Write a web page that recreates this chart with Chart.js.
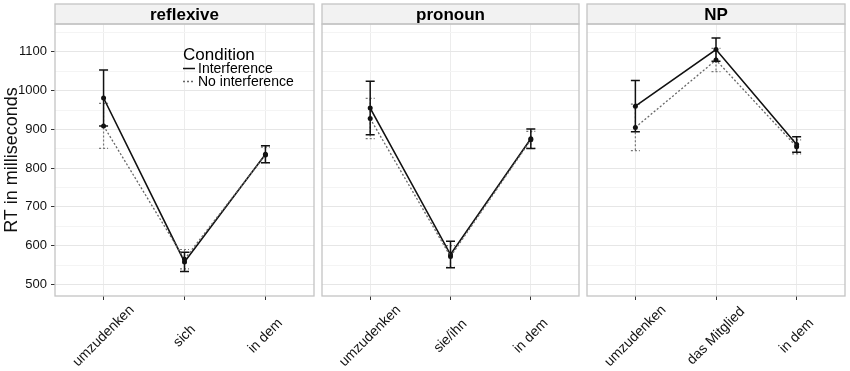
<!DOCTYPE html>
<html lang="en">
<head>
    <meta charset="UTF-8">
    <title>RT by condition</title>
    <script src="https://cdn.jsdelivr.net/npm/chart.js"></script>
    <style>
        body { margin: 0; background: #fff; }
        #wrap { position: relative; width: 850px; height: 371px; }
        #wrap canvas { position: absolute; top: 0; }
    </style>
</head>
<body>
    <div id="wrap">
        <canvas id="c1" width="318" height="371" style="left:0px"></canvas>
        <canvas id="c2" width="265" height="371" style="left:318px"></canvas>
        <canvas id="c3" width="267" height="371" style="left:583px"></canvas>
    </div>
    <script>
        // facet names and the words on the x axis of each facet
        const panels = ['reflexive', 'pronoun', 'NP'];
        const reflexiveLabels = ['umzudenken', 'sich', 'in dem'];
        const pronounLabels = ['umzudenken', 'sie/ihn', 'in dem'];
        const npLabels = ['umzudenken', 'das Mitglied', 'in dem'];

        // mean RT (ms) and standard error, Interference condition
        const reflexiveInt = [981, 558, 836];
        const reflexiveIntSe = [72, 25, 22];
        const pronounInt = [955, 577, 876];
        const pronounIntSe = [69, 34, 25];
        const npInt = [960, 1106, 861];
        const npIntSe = [66, 30, 20];

        // No interference condition
        const reflexiveNoInt = [909, 565, 834];
        const reflexiveNoIntSe = [58, 25, 20];
        const pronounNoInt = [928, 572, 873];
        const pronounNoIntSe = [52, 28, 22];
        const npNoInt = [905, 1079, 855];
        const npNoIntSe = [60, 30, 18];

        const yTicks = [500, 600, 700, 800, 900, 1000, 1100];

        const FONT = '"Liberation Sans", Arial, Helvetica, sans-serif';

        // error bars drawn under the lines
        const errorBars = {
            id: 'errorBars',
            beforeDatasetsDraw(chart) {
                const ctx = chart.ctx;
                const xs = chart.scales.x, ys = chart.scales.y;
                chart.data.datasets.forEach(ds => {
                    ctx.save();
                    ctx.strokeStyle = ds.barColor;
                    ctx.lineWidth = ds.barWidth;
                    ctx.setLineDash(ds.borderDash || []);
                    ds.data.forEach((p, i) => {
                        const x = xs.getPixelForValue(p.x);
                        const top = ys.getPixelForValue(p.y + ds.se[i]);
                        const bot = ys.getPixelForValue(p.y - ds.se[i]);
                        ctx.beginPath();
                        ctx.moveTo(x, top); ctx.lineTo(x, bot);
                        ctx.moveTo(x - 4.5, top); ctx.lineTo(x + 4.5, top);
                        ctx.moveTo(x - 4.5, bot); ctx.lineTo(x + 4.5, bot);
                        ctx.stroke();
                    });
                    ctx.restore();
                });
            }
        };

        // strip on top, panel border and the rotated category labels
        const facet = {
            id: 'facet',
            afterDraw(chart, args, opts) {
                const ctx = chart.ctx;
                const a = chart.chartArea;
                ctx.save();
                ctx.fillStyle = '#f2f2f2';
                ctx.fillRect(a.left, 4, a.right - a.left, a.top - 4);
                ctx.strokeStyle = '#c4c4c4';
                ctx.lineWidth = 1.3;
                ctx.strokeRect(a.left, 4, a.right - a.left, a.top - 4);
                ctx.strokeRect(a.left, a.top, a.right - a.left, a.bottom - a.top);
                ctx.fillStyle = '#000';
                ctx.font = 'bold 17px ' + FONT;
                ctx.textAlign = 'center';
                ctx.textBaseline = 'middle';
                ctx.fillText(opts.title, (a.left + a.right) / 2, 15);

                ctx.font = '14px ' + FONT;
                ctx.fillStyle = '#111';
                opts.labels.forEach((lab, i) => {
                    const x = chart.scales.x.getPixelForValue(i);
                    ctx.save();
                    ctx.translate(x, 336);
                    ctx.rotate(-Math.PI / 4);
                    ctx.fillText(lab, 0, 0);
                    ctx.restore();
                });
                ctx.restore();
            }
        };

        const legendBox = {
            id: 'legendBox',
            afterDraw(chart) {
                const ctx = chart.ctx;
                ctx.save();
                ctx.fillStyle = '#000';
                ctx.font = '17px ' + FONT;
                ctx.textBaseline = 'alphabetic';
                ctx.fillText('Condition', 183, 60);
                ctx.font = '14px ' + FONT;
                ctx.fillText('Interference', 198, 73);
                ctx.fillText('No interference', 198, 86);
                ctx.strokeStyle = '#111';
                ctx.lineWidth = 1.5;
                ctx.beginPath(); ctx.moveTo(183, 68.5); ctx.lineTo(195, 68.5); ctx.stroke();
                ctx.strokeStyle = '#666';
                ctx.setLineDash([2, 2]);
                ctx.beginPath(); ctx.moveTo(183, 81.5); ctx.lineTo(195, 81.5); ctx.stroke();
                ctx.restore();
            }
        };

        function makePanel(id, title, labels, intVals, intSe, noVals, noSe, first, pad) {
            const plugins = [errorBars, facet];
            if (first) plugins.push(legendBox);
            new Chart(document.getElementById(id), {
                type: 'line',
                data: {
                    datasets: [{
                        label: 'No interference',
                        data: noVals.map((v, i) => ({ x: i, y: v })),
                        se: noSe,
                        borderColor: '#666',
                        borderWidth: 1.3,
                        borderDash: [2, 2],
                        barColor: '#777',
                        barWidth: 1.2,
                        pointRadius: 2.5,
                        pointBackgroundColor: '#111',
                        pointBorderWidth: 0,
                        tension: 0
                    }, {
                        label: 'Interference',
                        data: intVals.map((v, i) => ({ x: i, y: v })),
                        se: intSe,
                        borderColor: '#111',
                        borderWidth: 1.6,
                        barColor: '#111',
                        barWidth: 1.5,
                        pointRadius: 2.5,
                        pointBackgroundColor: '#111',
                        pointBorderWidth: 0,
                        tension: 0
                    }]
                },
                plugins: plugins,
                options: {
                    responsive: false,
                    animation: false,
                    layout: { padding: { top: 24, left: pad[0], right: pad[1], bottom: 0 } },
                    plugins: {
                        legend: { display: false },
                        tooltip: { enabled: false },
                        facet: { title: title, labels: labels }
                    },
                    scales: {
                        x: {
                            type: 'linear',
                            min: -0.6,
                            max: 2.6,
                            afterBuildTicks: s => { s.ticks = labels.map((l, i) => ({ value: i })); },
                            afterFit: s => { s.height = 75; },
                            ticks: { display: false },
                            border: { display: false },
                            grid: { color: '#ececec', lineWidth: 1, tickLength: 4, tickColor: '#333' }
                        },
                        y: {
                            min: 470,
                            max: 1172,
                            afterBuildTicks: s => {
                                const t = [];
                                yTicks.forEach(v => { t.push({ value: v }); t.push({ value: v + 50 }); });
                                s.ticks = t.filter(k => k.value < 1172);
                            },
                            afterFit: s => { s.width = first ? 55 : 0; },
                            border: { display: false },
                            title: {
                                display: first,
                                text: 'RT in milliseconds',
                                color: '#111',
                                font: { family: FONT, size: 18 },
                                padding: { top: 1, bottom: 0 }
                            },
                            ticks: {
                                display: first,
                                color: '#111',
                                padding: 4,
                                font: { family: FONT, size: 13 },
                                callback: v => (v % 100 === 0 ? v : '')
                            },
                            grid: {
                                drawTicks: first,
                                tickLength: 4,
                                color: c => (c.tick && c.tick.value % 100 === 0 ? '#e6e6e6' : '#f4f4f4'),
                                tickColor: c => (c.tick && c.tick.value % 100 === 0 ? '#333' : 'rgba(0,0,0,0)')
                            }
                        }
                    }
                }
            });
        }

        makePanel('c1', panels[0], reflexiveLabels, reflexiveInt, reflexiveIntSe, reflexiveNoInt, reflexiveNoIntSe, true, [0, 2]);
        makePanel('c2', panels[1], pronounLabels, pronounInt, pronounIntSe, pronounNoInt, pronounNoIntSe, false, [3, 2]);
        makePanel('c3', panels[2], npLabels, npInt, npIntSe, npNoInt, npNoIntSe, false, [3, 5]);
    </script>
</body>
</html>
